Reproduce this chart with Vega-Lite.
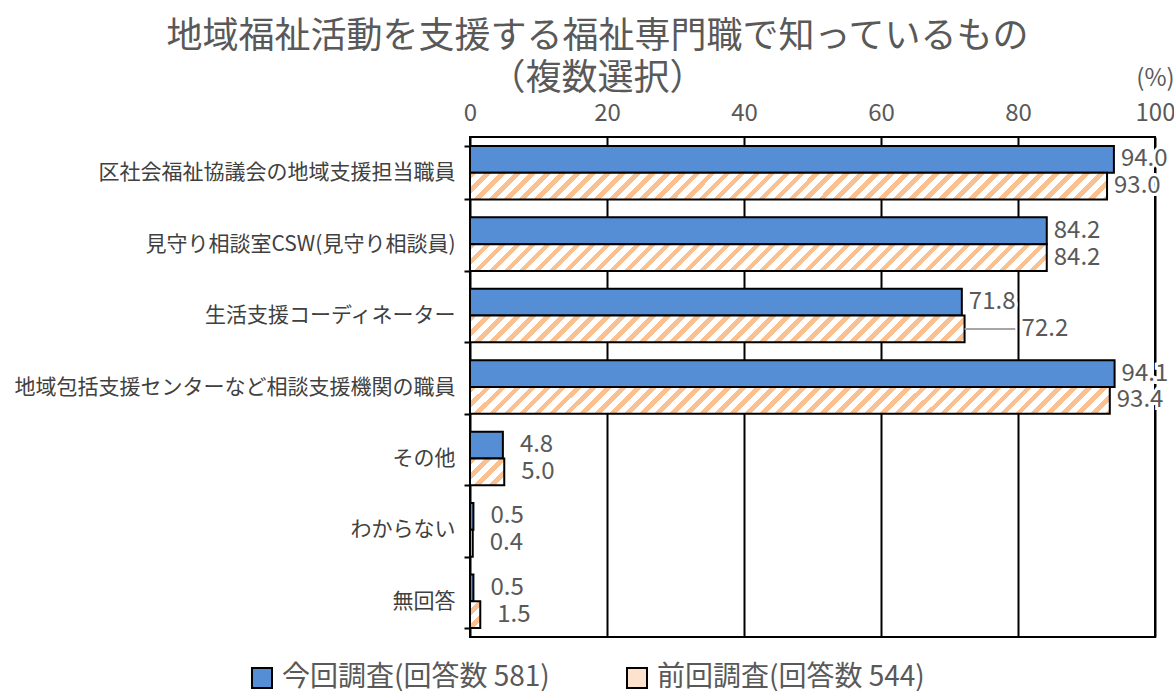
{
  "$schema": "https://vega.github.io/schema/vega-lite/v6.json",
  "width": 685,
  "height": 500,
  "autosize": {"type": "none"},
  "padding": {"left": 470, "top": 137, "right": 19, "bottom": 54},
  "background": "white",
  "config": {
    "font": "Noto Sans CJK JP",
    "view": {"stroke": "black", "strokeWidth": 2}
  },
  "title": {
    "text": ["地域福祉活動を支援する福祉専門職で知っているもの", "（複数選択）"],
    "fontSize": 36, "fontWeight": "normal", "color": "#595959",
    "anchor": "middle", "frame": "group", "dx": -215, "offset": -32, "lineHeight": 42
  },
  "data": {"values": [
    {"category": "区社会福祉協議会の地域支援担当職員", "survey": "今回調査(回答数 581)", "value": 94.0},
    {"category": "区社会福祉協議会の地域支援担当職員", "survey": "前回調査(回答数 544)", "value": 93.0},
    {"category": "見守り相談室CSW(見守り相談員)", "survey": "今回調査(回答数 581)", "value": 84.2},
    {"category": "見守り相談室CSW(見守り相談員)", "survey": "前回調査(回答数 544)", "value": 84.2},
    {"category": "生活支援コーディネーター", "survey": "今回調査(回答数 581)", "value": 71.8},
    {"category": "生活支援コーディネーター", "survey": "前回調査(回答数 544)", "value": 72.2},
    {"category": "地域包括支援センターなど相談支援機関の職員", "survey": "今回調査(回答数 581)", "value": 94.1},
    {"category": "地域包括支援センターなど相談支援機関の職員", "survey": "前回調査(回答数 544)", "value": 93.4},
    {"category": "その他", "survey": "今回調査(回答数 581)", "value": 4.8},
    {"category": "その他", "survey": "前回調査(回答数 544)", "value": 5.0},
    {"category": "わからない", "survey": "今回調査(回答数 581)", "value": 0.5},
    {"category": "わからない", "survey": "前回調査(回答数 544)", "value": 0.4},
    {"category": "無回答", "survey": "今回調査(回答数 581)", "value": 0.5},
    {"category": "無回答", "survey": "前回調査(回答数 544)", "value": 1.5}
  ]},
  "encoding": {
    "y": {
      "field": "category", "type": "nominal",
      "sort": ["区社会福祉協議会の地域支援担当職員", "見守り相談室CSW(見守り相談員)", "生活支援コーディネーター", "地域包括支援センターなど相談支援機関の職員", "その他", "わからない", "無回答"],
      "scale": {"paddingInner": 0.25, "paddingOuter": 0.125},
      "title": null,
      "axis": {"labelFontSize": 21, "labelColor": "#404040", "labelPadding": 9, "ticks": true, "tickBand": "extent", "tickSize": 6, "tickColor": "black", "tickWidth": 2, "domain": false, "grid": false, "labelLimit": 0}
    },
    "yOffset": {
      "field": "survey", "type": "nominal",
      "sort": ["今回調査(回答数 581)", "前回調査(回答数 544)"],
      "scale": {"paddingInner": 0, "paddingOuter": 0}
    },
    "x": {
      "field": "value", "type": "quantitative",
      "scale": {"domain": [0, 100]},
      "title": null,
      "axis": {"orient": "top", "values": [0, 20, 40, 60, 80, 100], "labelExpr": "datum.value === 100 ? ['(%)', '100'] : datum.label", "labelLineHeight": 35, "labelFontSize": 24, "labelColor": "#595959", "labelPadding": {"condition": {"test": "datum.value === 100", "value": 47}, "value": 12}, "ticks": false, "domain": false, "grid": true, "gridColor": "black", "gridWidth": 2, "labelFlush": false, "labelOverlap": false}
    }
  },
  "layer": [
    {
      "mark": {"type": "bar", "stroke": "black", "strokeWidth": 2},
      "encoding": {
        "color": {
          "field": "survey", "type": "nominal",
          "scale": {
            "domain": ["今回調査(回答数 581)", "前回調査(回答数 544)"],
            "range": ["#558ED5", "#FDE3CD"]
          },
          "legend": {
            "orient": "none", "legendX": -222, "legendY": 527, "direction": "horizontal", "title": null,
            "symbolType": "square", "symbolSize": 400, "symbolStrokeColor": "black", "symbolStrokeWidth": 2,
            "labelFontSize": 28, "labelColor": "#595959", "columnPadding": 73, "labelOffset": 6, "labelLimit": 0
          },
          "condition": [
            {"test": "datum.survey === '前回調査(回答数 544)' && (datum.category === '区社会福祉協議会の地域支援担当職員' || datum.category === '地域包括支援センターなど相談支援機関の職員')", "value": {"gradient": "linear", "x1": 0, "y1": 0, "x2": 1.0555, "y2": 0.0443, "stops": [
              {"offset":0,"color":"#fac090"},{"offset":0.01,"color":"#fac090"},{"offset":0.01,"color":"#fff"},{"offset":0.0222,"color":"#fff"},
              {"offset":0.0222,"color":"#fac090"},{"offset":0.0322,"color":"#fac090"},{"offset":0.0322,"color":"#fff"},{"offset":0.0444,"color":"#fff"},
              {"offset":0.0444,"color":"#fac090"},{"offset":0.0544,"color":"#fac090"},{"offset":0.0544,"color":"#fff"},{"offset":0.0667,"color":"#fff"},
              {"offset":0.0667,"color":"#fac090"},{"offset":0.0767,"color":"#fac090"},{"offset":0.0767,"color":"#fff"},{"offset":0.0889,"color":"#fff"},
              {"offset":0.0889,"color":"#fac090"},{"offset":0.0989,"color":"#fac090"},{"offset":0.0989,"color":"#fff"},{"offset":0.1111,"color":"#fff"},
              {"offset":0.1111,"color":"#fac090"},{"offset":0.1211,"color":"#fac090"},{"offset":0.1211,"color":"#fff"},{"offset":0.1333,"color":"#fff"},
              {"offset":0.1333,"color":"#fac090"},{"offset":0.1433,"color":"#fac090"},{"offset":0.1433,"color":"#fff"},{"offset":0.1556,"color":"#fff"},
              {"offset":0.1556,"color":"#fac090"},{"offset":0.1656,"color":"#fac090"},{"offset":0.1656,"color":"#fff"},{"offset":0.1778,"color":"#fff"},
              {"offset":0.1778,"color":"#fac090"},{"offset":0.1878,"color":"#fac090"},{"offset":0.1878,"color":"#fff"},{"offset":0.2,"color":"#fff"},
              {"offset":0.2,"color":"#fac090"},{"offset":0.21,"color":"#fac090"},{"offset":0.21,"color":"#fff"},{"offset":0.2222,"color":"#fff"},
              {"offset":0.2222,"color":"#fac090"},{"offset":0.2322,"color":"#fac090"},{"offset":0.2322,"color":"#fff"},{"offset":0.2444,"color":"#fff"},
              {"offset":0.2444,"color":"#fac090"},{"offset":0.2544,"color":"#fac090"},{"offset":0.2544,"color":"#fff"},{"offset":0.2667,"color":"#fff"},
              {"offset":0.2667,"color":"#fac090"},{"offset":0.2767,"color":"#fac090"},{"offset":0.2767,"color":"#fff"},{"offset":0.2889,"color":"#fff"},
              {"offset":0.2889,"color":"#fac090"},{"offset":0.2989,"color":"#fac090"},{"offset":0.2989,"color":"#fff"},{"offset":0.3111,"color":"#fff"},
              {"offset":0.3111,"color":"#fac090"},{"offset":0.3211,"color":"#fac090"},{"offset":0.3211,"color":"#fff"},{"offset":0.3333,"color":"#fff"},
              {"offset":0.3333,"color":"#fac090"},{"offset":0.3433,"color":"#fac090"},{"offset":0.3433,"color":"#fff"},{"offset":0.3556,"color":"#fff"},
              {"offset":0.3556,"color":"#fac090"},{"offset":0.3656,"color":"#fac090"},{"offset":0.3656,"color":"#fff"},{"offset":0.3778,"color":"#fff"},
              {"offset":0.3778,"color":"#fac090"},{"offset":0.3878,"color":"#fac090"},{"offset":0.3878,"color":"#fff"},{"offset":0.4,"color":"#fff"},
              {"offset":0.4,"color":"#fac090"},{"offset":0.41,"color":"#fac090"},{"offset":0.41,"color":"#fff"},{"offset":0.4222,"color":"#fff"},
              {"offset":0.4222,"color":"#fac090"},{"offset":0.4322,"color":"#fac090"},{"offset":0.4322,"color":"#fff"},{"offset":0.4444,"color":"#fff"},
              {"offset":0.4444,"color":"#fac090"},{"offset":0.4544,"color":"#fac090"},{"offset":0.4544,"color":"#fff"},{"offset":0.4667,"color":"#fff"},
              {"offset":0.4667,"color":"#fac090"},{"offset":0.4767,"color":"#fac090"},{"offset":0.4767,"color":"#fff"},{"offset":0.4889,"color":"#fff"},
              {"offset":0.4889,"color":"#fac090"},{"offset":0.4989,"color":"#fac090"},{"offset":0.4989,"color":"#fff"},{"offset":0.5111,"color":"#fff"},
              {"offset":0.5111,"color":"#fac090"},{"offset":0.5211,"color":"#fac090"},{"offset":0.5211,"color":"#fff"},{"offset":0.5333,"color":"#fff"},
              {"offset":0.5333,"color":"#fac090"},{"offset":0.5433,"color":"#fac090"},{"offset":0.5433,"color":"#fff"},{"offset":0.5556,"color":"#fff"},
              {"offset":0.5556,"color":"#fac090"},{"offset":0.5656,"color":"#fac090"},{"offset":0.5656,"color":"#fff"},{"offset":0.5778,"color":"#fff"},
              {"offset":0.5778,"color":"#fac090"},{"offset":0.5878,"color":"#fac090"},{"offset":0.5878,"color":"#fff"},{"offset":0.6,"color":"#fff"},
              {"offset":0.6,"color":"#fac090"},{"offset":0.61,"color":"#fac090"},{"offset":0.61,"color":"#fff"},{"offset":0.6222,"color":"#fff"},
              {"offset":0.6222,"color":"#fac090"},{"offset":0.6322,"color":"#fac090"},{"offset":0.6322,"color":"#fff"},{"offset":0.6444,"color":"#fff"},
              {"offset":0.6444,"color":"#fac090"},{"offset":0.6544,"color":"#fac090"},{"offset":0.6544,"color":"#fff"},{"offset":0.6667,"color":"#fff"},
              {"offset":0.6667,"color":"#fac090"},{"offset":0.6767,"color":"#fac090"},{"offset":0.6767,"color":"#fff"},{"offset":0.6889,"color":"#fff"},
              {"offset":0.6889,"color":"#fac090"},{"offset":0.6989,"color":"#fac090"},{"offset":0.6989,"color":"#fff"},{"offset":0.7111,"color":"#fff"},
              {"offset":0.7111,"color":"#fac090"},{"offset":0.7211,"color":"#fac090"},{"offset":0.7211,"color":"#fff"},{"offset":0.7333,"color":"#fff"},
              {"offset":0.7333,"color":"#fac090"},{"offset":0.7433,"color":"#fac090"},{"offset":0.7433,"color":"#fff"},{"offset":0.7556,"color":"#fff"},
              {"offset":0.7556,"color":"#fac090"},{"offset":0.7656,"color":"#fac090"},{"offset":0.7656,"color":"#fff"},{"offset":0.7778,"color":"#fff"},
              {"offset":0.7778,"color":"#fac090"},{"offset":0.7878,"color":"#fac090"},{"offset":0.7878,"color":"#fff"},{"offset":0.8,"color":"#fff"},
              {"offset":0.8,"color":"#fac090"},{"offset":0.81,"color":"#fac090"},{"offset":0.81,"color":"#fff"},{"offset":0.8222,"color":"#fff"},
              {"offset":0.8222,"color":"#fac090"},{"offset":0.8322,"color":"#fac090"},{"offset":0.8322,"color":"#fff"},{"offset":0.8444,"color":"#fff"},
              {"offset":0.8444,"color":"#fac090"},{"offset":0.8544,"color":"#fac090"},{"offset":0.8544,"color":"#fff"},{"offset":0.8667,"color":"#fff"},
              {"offset":0.8667,"color":"#fac090"},{"offset":0.8767,"color":"#fac090"},{"offset":0.8767,"color":"#fff"},{"offset":0.8889,"color":"#fff"},
              {"offset":0.8889,"color":"#fac090"},{"offset":0.8989,"color":"#fac090"},{"offset":0.8989,"color":"#fff"},{"offset":0.9111,"color":"#fff"},
              {"offset":0.9111,"color":"#fac090"},{"offset":0.9211,"color":"#fac090"},{"offset":0.9211,"color":"#fff"},{"offset":0.9333,"color":"#fff"},
              {"offset":0.9333,"color":"#fac090"},{"offset":0.9433,"color":"#fac090"},{"offset":0.9433,"color":"#fff"},{"offset":0.9556,"color":"#fff"},
              {"offset":0.9556,"color":"#fac090"},{"offset":0.9656,"color":"#fac090"},{"offset":0.9656,"color":"#fff"},{"offset":0.9778,"color":"#fff"},
              {"offset":0.9778,"color":"#fac090"},{"offset":0.9878,"color":"#fac090"},{"offset":0.9878,"color":"#fff"},{"offset":1,"color":"#fff"}
            ]}},
            {"test": "datum.survey === '前回調査(回答数 544)' && datum.category === '見守り相談室CSW(見守り相談員)'", "value": {"gradient": "linear", "x1": 0, "y1": 0, "x2": 1.1678, "y2": 0.0542, "stops": [
              {"offset":0,"color":"#fac090"},{"offset":0.01,"color":"#fac090"},{"offset":0.01,"color":"#fff"},{"offset":0.0222,"color":"#fff"},
              {"offset":0.0222,"color":"#fac090"},{"offset":0.0322,"color":"#fac090"},{"offset":0.0322,"color":"#fff"},{"offset":0.0444,"color":"#fff"},
              {"offset":0.0444,"color":"#fac090"},{"offset":0.0544,"color":"#fac090"},{"offset":0.0544,"color":"#fff"},{"offset":0.0667,"color":"#fff"},
              {"offset":0.0667,"color":"#fac090"},{"offset":0.0767,"color":"#fac090"},{"offset":0.0767,"color":"#fff"},{"offset":0.0889,"color":"#fff"},
              {"offset":0.0889,"color":"#fac090"},{"offset":0.0989,"color":"#fac090"},{"offset":0.0989,"color":"#fff"},{"offset":0.1111,"color":"#fff"},
              {"offset":0.1111,"color":"#fac090"},{"offset":0.1211,"color":"#fac090"},{"offset":0.1211,"color":"#fff"},{"offset":0.1333,"color":"#fff"},
              {"offset":0.1333,"color":"#fac090"},{"offset":0.1433,"color":"#fac090"},{"offset":0.1433,"color":"#fff"},{"offset":0.1556,"color":"#fff"},
              {"offset":0.1556,"color":"#fac090"},{"offset":0.1656,"color":"#fac090"},{"offset":0.1656,"color":"#fff"},{"offset":0.1778,"color":"#fff"},
              {"offset":0.1778,"color":"#fac090"},{"offset":0.1878,"color":"#fac090"},{"offset":0.1878,"color":"#fff"},{"offset":0.2,"color":"#fff"},
              {"offset":0.2,"color":"#fac090"},{"offset":0.21,"color":"#fac090"},{"offset":0.21,"color":"#fff"},{"offset":0.2222,"color":"#fff"},
              {"offset":0.2222,"color":"#fac090"},{"offset":0.2322,"color":"#fac090"},{"offset":0.2322,"color":"#fff"},{"offset":0.2444,"color":"#fff"},
              {"offset":0.2444,"color":"#fac090"},{"offset":0.2544,"color":"#fac090"},{"offset":0.2544,"color":"#fff"},{"offset":0.2667,"color":"#fff"},
              {"offset":0.2667,"color":"#fac090"},{"offset":0.2767,"color":"#fac090"},{"offset":0.2767,"color":"#fff"},{"offset":0.2889,"color":"#fff"},
              {"offset":0.2889,"color":"#fac090"},{"offset":0.2989,"color":"#fac090"},{"offset":0.2989,"color":"#fff"},{"offset":0.3111,"color":"#fff"},
              {"offset":0.3111,"color":"#fac090"},{"offset":0.3211,"color":"#fac090"},{"offset":0.3211,"color":"#fff"},{"offset":0.3333,"color":"#fff"},
              {"offset":0.3333,"color":"#fac090"},{"offset":0.3433,"color":"#fac090"},{"offset":0.3433,"color":"#fff"},{"offset":0.3556,"color":"#fff"},
              {"offset":0.3556,"color":"#fac090"},{"offset":0.3656,"color":"#fac090"},{"offset":0.3656,"color":"#fff"},{"offset":0.3778,"color":"#fff"},
              {"offset":0.3778,"color":"#fac090"},{"offset":0.3878,"color":"#fac090"},{"offset":0.3878,"color":"#fff"},{"offset":0.4,"color":"#fff"},
              {"offset":0.4,"color":"#fac090"},{"offset":0.41,"color":"#fac090"},{"offset":0.41,"color":"#fff"},{"offset":0.4222,"color":"#fff"},
              {"offset":0.4222,"color":"#fac090"},{"offset":0.4322,"color":"#fac090"},{"offset":0.4322,"color":"#fff"},{"offset":0.4444,"color":"#fff"},
              {"offset":0.4444,"color":"#fac090"},{"offset":0.4544,"color":"#fac090"},{"offset":0.4544,"color":"#fff"},{"offset":0.4667,"color":"#fff"},
              {"offset":0.4667,"color":"#fac090"},{"offset":0.4767,"color":"#fac090"},{"offset":0.4767,"color":"#fff"},{"offset":0.4889,"color":"#fff"},
              {"offset":0.4889,"color":"#fac090"},{"offset":0.4989,"color":"#fac090"},{"offset":0.4989,"color":"#fff"},{"offset":0.5111,"color":"#fff"},
              {"offset":0.5111,"color":"#fac090"},{"offset":0.5211,"color":"#fac090"},{"offset":0.5211,"color":"#fff"},{"offset":0.5333,"color":"#fff"},
              {"offset":0.5333,"color":"#fac090"},{"offset":0.5433,"color":"#fac090"},{"offset":0.5433,"color":"#fff"},{"offset":0.5556,"color":"#fff"},
              {"offset":0.5556,"color":"#fac090"},{"offset":0.5656,"color":"#fac090"},{"offset":0.5656,"color":"#fff"},{"offset":0.5778,"color":"#fff"},
              {"offset":0.5778,"color":"#fac090"},{"offset":0.5878,"color":"#fac090"},{"offset":0.5878,"color":"#fff"},{"offset":0.6,"color":"#fff"},
              {"offset":0.6,"color":"#fac090"},{"offset":0.61,"color":"#fac090"},{"offset":0.61,"color":"#fff"},{"offset":0.6222,"color":"#fff"},
              {"offset":0.6222,"color":"#fac090"},{"offset":0.6322,"color":"#fac090"},{"offset":0.6322,"color":"#fff"},{"offset":0.6444,"color":"#fff"},
              {"offset":0.6444,"color":"#fac090"},{"offset":0.6544,"color":"#fac090"},{"offset":0.6544,"color":"#fff"},{"offset":0.6667,"color":"#fff"},
              {"offset":0.6667,"color":"#fac090"},{"offset":0.6767,"color":"#fac090"},{"offset":0.6767,"color":"#fff"},{"offset":0.6889,"color":"#fff"},
              {"offset":0.6889,"color":"#fac090"},{"offset":0.6989,"color":"#fac090"},{"offset":0.6989,"color":"#fff"},{"offset":0.7111,"color":"#fff"},
              {"offset":0.7111,"color":"#fac090"},{"offset":0.7211,"color":"#fac090"},{"offset":0.7211,"color":"#fff"},{"offset":0.7333,"color":"#fff"},
              {"offset":0.7333,"color":"#fac090"},{"offset":0.7433,"color":"#fac090"},{"offset":0.7433,"color":"#fff"},{"offset":0.7556,"color":"#fff"},
              {"offset":0.7556,"color":"#fac090"},{"offset":0.7656,"color":"#fac090"},{"offset":0.7656,"color":"#fff"},{"offset":0.7778,"color":"#fff"},
              {"offset":0.7778,"color":"#fac090"},{"offset":0.7878,"color":"#fac090"},{"offset":0.7878,"color":"#fff"},{"offset":0.8,"color":"#fff"},
              {"offset":0.8,"color":"#fac090"},{"offset":0.81,"color":"#fac090"},{"offset":0.81,"color":"#fff"},{"offset":0.8222,"color":"#fff"},
              {"offset":0.8222,"color":"#fac090"},{"offset":0.8322,"color":"#fac090"},{"offset":0.8322,"color":"#fff"},{"offset":0.8444,"color":"#fff"},
              {"offset":0.8444,"color":"#fac090"},{"offset":0.8544,"color":"#fac090"},{"offset":0.8544,"color":"#fff"},{"offset":0.8667,"color":"#fff"},
              {"offset":0.8667,"color":"#fac090"},{"offset":0.8767,"color":"#fac090"},{"offset":0.8767,"color":"#fff"},{"offset":0.8889,"color":"#fff"},
              {"offset":0.8889,"color":"#fac090"},{"offset":0.8989,"color":"#fac090"},{"offset":0.8989,"color":"#fff"},{"offset":0.9111,"color":"#fff"}
            ]}},
            {"test": "datum.survey === '前回調査(回答数 544)' && datum.category === '生活支援コーディネーター'", "value": {"gradient": "linear", "x1": 0, "y1": 0, "x2": 1.3608, "y2": 0.0737, "stops": [
              {"offset":0,"color":"#fac090"},{"offset":0.01,"color":"#fac090"},{"offset":0.01,"color":"#fff"},{"offset":0.0222,"color":"#fff"},
              {"offset":0.0222,"color":"#fac090"},{"offset":0.0322,"color":"#fac090"},{"offset":0.0322,"color":"#fff"},{"offset":0.0444,"color":"#fff"},
              {"offset":0.0444,"color":"#fac090"},{"offset":0.0544,"color":"#fac090"},{"offset":0.0544,"color":"#fff"},{"offset":0.0667,"color":"#fff"},
              {"offset":0.0667,"color":"#fac090"},{"offset":0.0767,"color":"#fac090"},{"offset":0.0767,"color":"#fff"},{"offset":0.0889,"color":"#fff"},
              {"offset":0.0889,"color":"#fac090"},{"offset":0.0989,"color":"#fac090"},{"offset":0.0989,"color":"#fff"},{"offset":0.1111,"color":"#fff"},
              {"offset":0.1111,"color":"#fac090"},{"offset":0.1211,"color":"#fac090"},{"offset":0.1211,"color":"#fff"},{"offset":0.1333,"color":"#fff"},
              {"offset":0.1333,"color":"#fac090"},{"offset":0.1433,"color":"#fac090"},{"offset":0.1433,"color":"#fff"},{"offset":0.1556,"color":"#fff"},
              {"offset":0.1556,"color":"#fac090"},{"offset":0.1656,"color":"#fac090"},{"offset":0.1656,"color":"#fff"},{"offset":0.1778,"color":"#fff"},
              {"offset":0.1778,"color":"#fac090"},{"offset":0.1878,"color":"#fac090"},{"offset":0.1878,"color":"#fff"},{"offset":0.2,"color":"#fff"},
              {"offset":0.2,"color":"#fac090"},{"offset":0.21,"color":"#fac090"},{"offset":0.21,"color":"#fff"},{"offset":0.2222,"color":"#fff"},
              {"offset":0.2222,"color":"#fac090"},{"offset":0.2322,"color":"#fac090"},{"offset":0.2322,"color":"#fff"},{"offset":0.2444,"color":"#fff"},
              {"offset":0.2444,"color":"#fac090"},{"offset":0.2544,"color":"#fac090"},{"offset":0.2544,"color":"#fff"},{"offset":0.2667,"color":"#fff"},
              {"offset":0.2667,"color":"#fac090"},{"offset":0.2767,"color":"#fac090"},{"offset":0.2767,"color":"#fff"},{"offset":0.2889,"color":"#fff"},
              {"offset":0.2889,"color":"#fac090"},{"offset":0.2989,"color":"#fac090"},{"offset":0.2989,"color":"#fff"},{"offset":0.3111,"color":"#fff"},
              {"offset":0.3111,"color":"#fac090"},{"offset":0.3211,"color":"#fac090"},{"offset":0.3211,"color":"#fff"},{"offset":0.3333,"color":"#fff"},
              {"offset":0.3333,"color":"#fac090"},{"offset":0.3433,"color":"#fac090"},{"offset":0.3433,"color":"#fff"},{"offset":0.3556,"color":"#fff"},
              {"offset":0.3556,"color":"#fac090"},{"offset":0.3656,"color":"#fac090"},{"offset":0.3656,"color":"#fff"},{"offset":0.3778,"color":"#fff"},
              {"offset":0.3778,"color":"#fac090"},{"offset":0.3878,"color":"#fac090"},{"offset":0.3878,"color":"#fff"},{"offset":0.4,"color":"#fff"},
              {"offset":0.4,"color":"#fac090"},{"offset":0.41,"color":"#fac090"},{"offset":0.41,"color":"#fff"},{"offset":0.4222,"color":"#fff"},
              {"offset":0.4222,"color":"#fac090"},{"offset":0.4322,"color":"#fac090"},{"offset":0.4322,"color":"#fff"},{"offset":0.4444,"color":"#fff"},
              {"offset":0.4444,"color":"#fac090"},{"offset":0.4544,"color":"#fac090"},{"offset":0.4544,"color":"#fff"},{"offset":0.4667,"color":"#fff"},
              {"offset":0.4667,"color":"#fac090"},{"offset":0.4767,"color":"#fac090"},{"offset":0.4767,"color":"#fff"},{"offset":0.4889,"color":"#fff"},
              {"offset":0.4889,"color":"#fac090"},{"offset":0.4989,"color":"#fac090"},{"offset":0.4989,"color":"#fff"},{"offset":0.5111,"color":"#fff"},
              {"offset":0.5111,"color":"#fac090"},{"offset":0.5211,"color":"#fac090"},{"offset":0.5211,"color":"#fff"},{"offset":0.5333,"color":"#fff"},
              {"offset":0.5333,"color":"#fac090"},{"offset":0.5433,"color":"#fac090"},{"offset":0.5433,"color":"#fff"},{"offset":0.5556,"color":"#fff"},
              {"offset":0.5556,"color":"#fac090"},{"offset":0.5656,"color":"#fac090"},{"offset":0.5656,"color":"#fff"},{"offset":0.5778,"color":"#fff"},
              {"offset":0.5778,"color":"#fac090"},{"offset":0.5878,"color":"#fac090"},{"offset":0.5878,"color":"#fff"},{"offset":0.6,"color":"#fff"},
              {"offset":0.6,"color":"#fac090"},{"offset":0.61,"color":"#fac090"},{"offset":0.61,"color":"#fff"},{"offset":0.6222,"color":"#fff"},
              {"offset":0.6222,"color":"#fac090"},{"offset":0.6322,"color":"#fac090"},{"offset":0.6322,"color":"#fff"},{"offset":0.6444,"color":"#fff"},
              {"offset":0.6444,"color":"#fac090"},{"offset":0.6544,"color":"#fac090"},{"offset":0.6544,"color":"#fff"},{"offset":0.6667,"color":"#fff"},
              {"offset":0.6667,"color":"#fac090"},{"offset":0.6767,"color":"#fac090"},{"offset":0.6767,"color":"#fff"},{"offset":0.6889,"color":"#fff"},
              {"offset":0.6889,"color":"#fac090"},{"offset":0.6989,"color":"#fac090"},{"offset":0.6989,"color":"#fff"},{"offset":0.7111,"color":"#fff"},
              {"offset":0.7111,"color":"#fac090"},{"offset":0.7211,"color":"#fac090"},{"offset":0.7211,"color":"#fff"},{"offset":0.7333,"color":"#fff"},
              {"offset":0.7333,"color":"#fac090"},{"offset":0.7433,"color":"#fac090"},{"offset":0.7433,"color":"#fff"},{"offset":0.7556,"color":"#fff"},
              {"offset":0.7556,"color":"#fac090"},{"offset":0.7656,"color":"#fac090"},{"offset":0.7656,"color":"#fff"},{"offset":0.7778,"color":"#fff"}
            ]}},
            {"test": "datum.survey === '前回調査(回答数 544)' && datum.category === 'その他'", "value": {"gradient": "linear", "x1": 0, "y1": 0, "x2": 1.0868, "y2": 0.8501, "stops": [
              {"offset": 0, "color": "#fac090"}, {"offset": 0.1125, "color": "#fac090"}, {"offset": 0.1125, "color": "#fff"}, {"offset": 0.25, "color": "#fff"},
              {"offset": 0.25, "color": "#fac090"}, {"offset": 0.3625, "color": "#fac090"}, {"offset": 0.3625, "color": "#fff"}, {"offset": 0.5, "color": "#fff"},
              {"offset": 0.5, "color": "#fac090"}, {"offset": 0.6125, "color": "#fac090"}, {"offset": 0.6125, "color": "#fff"}, {"offset": 0.75, "color": "#fff"},
              {"offset": 0.75, "color": "#fac090"}, {"offset": 0.8625, "color": "#fac090"}, {"offset": 0.8625, "color": "#fff"}, {"offset": 1, "color": "#fff"}
            ]}},
            {"test": "datum.survey === '前回調査(回答数 544)' && datum.category === '無回答'", "value": {"gradient": "linear", "x1": 0, "y1": 0, "x2": 0.4994, "y2": 1.3014, "stops": [
              {"offset": 0, "color": "#fff"}, {"offset": 0.2, "color": "#fff"}, {"offset": 0.2, "color": "#fac090"}, {"offset": 0.3688, "color": "#fac090"},
              {"offset": 0.3688, "color": "#fff"}, {"offset": 0.575, "color": "#fff"}, {"offset": 0.575, "color": "#fac090"}, {"offset": 0.7438, "color": "#fac090"},
              {"offset": 0.7438, "color": "#fff"}, {"offset": 1, "color": "#fff"}
            ]}}
          ]
        }
      }
    },
    {
      "transform": [{"filter": "datum.value === 72.2"}],
      "mark": {"type": "rule", "color": "#a6a6a6", "strokeWidth": 2},
      "encoding": {"x2": {"datum": 79.6}}
    },
    {
      "transform": [{"filter": "datum.value >= 10 && datum.value !== 72.2"}],
      "mark": {"type": "text", "align": "left", "baseline": "middle", "dx": 7, "fontSize": 24, "fill": "white", "stroke": "white", "strokeWidth": 6},
      "encoding": {"text": {"field": "value", "type": "quantitative", "format": ".1f"}}
    },
    {
      "transform": [{"filter": "datum.value >= 10 && datum.value !== 72.2"}],
      "mark": {"type": "text", "align": "left", "baseline": "middle", "dx": 7, "fontSize": 24, "color": "#595959"},
      "encoding": {"text": {"field": "value", "type": "quantitative", "format": ".1f"}}
    },
    {
      "transform": [{"filter": "datum.value === 72.2"}],
      "mark": {"type": "text", "align": "left", "baseline": "middle", "dx": 57, "fontSize": 24, "color": "#595959"},
      "encoding": {"text": {"field": "value", "type": "quantitative", "format": ".1f"}}
    },
    {
      "transform": [{"filter": "datum.value < 10"}],
      "mark": {"type": "text", "align": "left", "baseline": "middle", "dx": 17, "fontSize": 24, "color": "#595959"},
      "encoding": {"text": {"field": "value", "type": "quantitative", "format": ".1f"}}
    }
  ]
}
